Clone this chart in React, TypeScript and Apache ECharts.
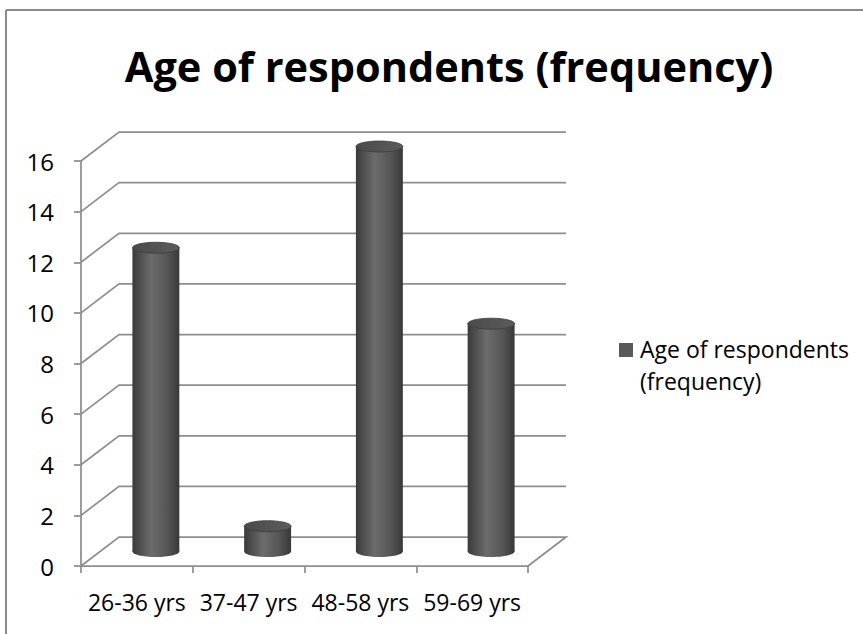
import React, { useEffect, useRef } from "react";
import * as echarts from "echarts";

const categories = ["26-36 yrs", "37-47 yrs", "48-58 yrs", "59-69 yrs"];
const frequency = [12, 1, 16, 9];
const yTicks = [0, 2, 4, 6, 8, 10, 12, 14, 16];
const seriesName = "Age of respondents (frequency)";
const titleText = "Age of respondents (frequency)";
const legendLines = ["Age of respondents", "(frequency)"];

const DX = 38;
const DY = -29;
const GRID_COLOR = "#8e8e8e";
const FONT = "'Open Sans', 'Liberation Sans', sans-serif";

export default function App() {
  const ref = useRef<HTMLDivElement>(null);

  useEffect(() => {
    if (!ref.current) return;
    const chart = echarts.init(ref.current, undefined, { renderer: "svg" });

    const bodyGrad = new echarts.graphic.LinearGradient(0, 0, 1, 0, [
      { offset: 0, color: "#3a3a3a" },
      { offset: 0.4, color: "#6c6c6c" },
      { offset: 0.75, color: "#555555" },
      { offset: 1, color: "#383838" },
    ]);
    const topGrad = new echarts.graphic.LinearGradient(0, 0, 1, 0, [
      { offset: 0, color: "#4a4a4a" },
      { offset: 1, color: "#5c5c5c" },
    ]);

    const option: any = {
      animation: false,
      backgroundColor: "#ffffff",
      title: {
        text: titleText,
        left: 444,
        top: 40,
        textAlign: "center",
        textStyle: {
          fontFamily: FONT,
          fontSize: 41.5,
          fontWeight: "bold",
          color: "#000000",
        },
      },
      grid: { left: 81, top: 161, right: 335, bottom: 68 },
      xAxis: {
        type: "category",
        data: categories,
        boundaryGap: true,
        axisLine: { show: true, lineStyle: { color: GRID_COLOR, width: 1.75 } },
        axisTick: { show: true, length: 7, interval: 0, lineStyle: { color: GRID_COLOR, width: 1.75 } },
        axisLabel: { interval: 0, margin: 24, fontFamily: FONT, fontSize: 23, color: "#000000" },
        splitLine: { show: false },
      },
      yAxis: {
        type: "value",
        min: 0,
        max: 16,
        interval: 2,
        axisLine: { show: true, lineStyle: { color: GRID_COLOR, width: 1.75 } },
        axisTick: { show: true, length: 7, lineStyle: { color: GRID_COLOR, width: 1.75 } },
        axisLabel: { margin: 27, fontFamily: FONT, fontSize: 24, color: "#000000" },
        splitLine: { show: false },
      },
      series: [
        {
          type: "custom",
          name: "walls",
          silent: true,
          z: 1,
          data: yTicks.map((v) => [0, v]),
          encode: { x: 0, y: 1 },
          renderItem: (params: any, api: any) => {
            const v = api.value(1);
            const cs = params.coordSys;
            const y = api.coord([0, v])[1];
            const x0 = cs.x;
            const x1 = cs.x + cs.width;
            const pts: number[][] = [
              [x0, y],
              [x0 + DX, y + DY],
              [x1 + DX, y + DY],
            ];
            if (v === 0) pts.push([x1, y]);
            return {
              type: "polyline",
              shape: { points: pts },
              style: { stroke: GRID_COLOR, lineWidth: 1.75, fill: null },
            };
          },
        },
        {
          type: "custom",
          name: seriesName,
          z: 3,
          itemStyle: { color: "#595959" },
          data: frequency.map((v, i) => [i, v]),
          encode: { x: 0, y: 1 },
          renderItem: (params: any, api: any) => {
            const i = api.value(0);
            const v = api.value(1);
            const base = api.coord([i, 0]);
            const top = api.coord([i, v]);
            const bw = api.size([1, 0])[0] * 0.42;
            const cx = base[0] + DX / 2;
            const by = base[1] + DY / 2;
            const ty = top[1] + DY / 2;
            const rx = bw / 2;
            const ry = 5.5;
            return {
              type: "group",
              children: [
                {
                  type: "ellipse",
                  shape: { cx, cy: by, rx, ry },
                  style: { fill: bodyGrad },
                },
                {
                  type: "rect",
                  shape: { x: cx - rx, y: ty, width: bw, height: by - ty },
                  style: { fill: bodyGrad },
                },
                {
                  type: "ellipse",
                  shape: { cx, cy: ty, rx, ry },
                  style: { fill: topGrad, stroke: "#3c3c3c", lineWidth: 0.8 },
                },
              ],
            };
          },
        },
      ],
      graphic: [
        {
          type: "line",
          shape: { x1: 6, y1: 10, x2: 863, y2: 10 },
          style: { stroke: "#8a8a8a", lineWidth: 2 },
        },
        {
          type: "line",
          shape: { x1: 6, y1: 10, x2: 6, y2: 634 },
          style: { stroke: "#8a8a8a", lineWidth: 2 },
        },
        {
          type: "rect",
          shape: { x: 619, y: 343, width: 14, height: 14 },
          style: { fill: "#595959" },
        },
        {
          type: "text",
          x: 640,
          y: 333,
          style: {
            text: legendLines.join("\n"),
            fontFamily: FONT,
            fontSize: 23,
            lineHeight: 32,
            fill: "#000000",
            verticalAlign: "top",
            align: "left",
          },
        },
      ],
    };

    chart.setOption(option);
    return () => chart.dispose();
  }, []);

  return (
    <div
      ref={ref}
      style={{ position: "fixed", left: 0, top: 0, width: 863, height: 634 }}
    />
  );
}
